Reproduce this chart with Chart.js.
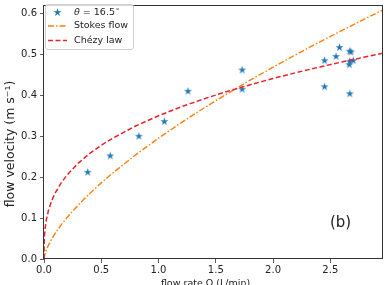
<!DOCTYPE html>
<html>
<head>
<meta charset="utf-8">
<script src="https://cdn.jsdelivr.net/npm/chart.js@4.4.0/dist/chart.umd.min.js"></script>
<style>
    html, body { margin: 0; padding: 0; background: #fff; overflow: hidden; }
    canvas { display: block; }
</style>
</head>
<body>
<canvas id="chart" width="388" height="285"></canvas>
<script>
const flowRate = [0.382, 0.578, 0.828, 1.051, 1.257, 1.73, 1.73, 2.45, 2.45, 2.55, 2.58, 2.67, 2.68, 2.67, 2.70, 2.665, 2.67];
const velocity = [0.212, 0.252, 0.300, 0.336, 0.410, 0.462, 0.415, 0.485, 0.421, 0.495, 0.517, 0.508, 0.506, 0.483, 0.485, 0.475, 0.404];

// Model curves, sampled off the figure
const modelQ  = [0, 0.001, 0.002, 0.005, 0.01, 0.02, 0.04, 0.07, 0.1, 0.15, 0.2, 0.3, 0.4, 0.5, 0.6, 0.8, 1.0, 1.2, 1.4, 1.6, 1.8, 2.0, 2.2, 2.4, 2.6, 2.8, 2.96];
const stokesV = [0, 0.003, 0.0047, 0.0086, 0.0137, 0.0218, 0.0346, 0.0502, 0.0636, 0.0834, 0.1010, 0.1324, 0.1604, 0.1861, 0.2101, 0.2546, 0.2954, 0.3336, 0.3697, 0.4041, 0.4371, 0.4689, 0.4997, 0.5296, 0.5586, 0.5869, 0.6090];
const chezyV  = [0, 0.035, 0.0441, 0.060, 0.0755, 0.0951, 0.1198, 0.1444, 0.1626, 0.1861, 0.2049, 0.2345, 0.2581, 0.2780, 0.2954, 0.3252, 0.3503, 0.3723, 0.3919, 0.4097, 0.4261, 0.4413, 0.4556, 0.4690, 0.4817, 0.4937, 0.5030];

// Tick labels
const xTicks = [0, 0.5, 1, 1.5, 2, 2.5];
const yTicks = [0, 0.1, 0.2, 0.3, 0.4, 0.5, 0.6];

const FONT = "'DejaVu Sans', sans-serif";
const BLUE = '#1f77b4';
const ORANGE = '#ff7f0e';
const RED = '#e8232a';

function toPoints(xs, ys) {
    return xs.map((x, i) => ({ x: x, y: ys[i] }));
}

// Filled five-point star, like matplotlib's '*' marker
function makeStar(r, color) {
    const size = Math.ceil(r * 2 + 2);
    const c = document.createElement('canvas');
    c.width = size;
    c.height = size;
    const g = c.getContext('2d');
    const cx = size / 2, cy = size / 2, inner = r * 0.381;
    g.beginPath();
    for (let i = 0; i < 10; i++) {
        const rad = i % 2 === 0 ? r : inner;
        const a = -Math.PI / 2 + i * Math.PI / 5;
        g.lineTo(cx + rad * Math.cos(a), cy + rad * Math.sin(a));
    }
    g.closePath();
    g.fillStyle = color;
    g.fill();
    return c;
}

const star = makeStar(4.2, BLUE);

// Frame, legend, axis titles and panel label
const extras = {
    id: 'extras',
    afterDraw(chart) {
        const ctx = chart.ctx;
        const a = chart.chartArea;
        ctx.save();

        // full box around the axes
        ctx.strokeStyle = '#333';
        ctx.lineWidth = 1;
        ctx.strokeRect(Math.round(a.left) - 0.5, Math.round(a.top) + 0.5,
            Math.round(a.right - a.left), Math.round(a.bottom - a.top) - 1);

        // legend box
        ctx.beginPath();
        ctx.roundRect(45.5, 4.5, 88, 45, 2.5);
        ctx.fillStyle = 'rgba(255,255,255,0.8)';
        ctx.fill();
        ctx.strokeStyle = '#d0d0d0';
        ctx.lineWidth = 1;
        ctx.stroke();

        const tx = 74;
        ctx.fillStyle = '#222';
        ctx.textBaseline = 'middle';
        ctx.textAlign = 'left';

        // row 1: stars
        ctx.drawImage(star, 57.5 - star.width / 2, 12.5 - star.height / 2);
        ctx.font = 'italic 9.5px ' + FONT;
        ctx.fillText('θ', tx, 12.5);
        let w = ctx.measureText('θ').width;
        ctx.font = '9.5px ' + FONT;
        ctx.fillText(' = 16.5', tx + w, 12.5);
        w += ctx.measureText(' = 16.5').width;
        ctx.font = '6.5px ' + FONT;
        ctx.fillText('∘', tx + w + 0.5, 9);

        // row 2: Stokes flow
        ctx.font = '9.5px ' + FONT;
        ctx.setLineDash([6, 2, 1.5, 2]);
        ctx.strokeStyle = ORANGE;
        ctx.lineWidth = 1.4;
        ctx.beginPath();
        ctx.moveTo(48, 26);
        ctx.lineTo(67, 26);
        ctx.stroke();
        ctx.fillText('Stokes flow', tx, 26);

        // row 3: Chezy law
        ctx.setLineDash([5, 2.5]);
        ctx.strokeStyle = RED;
        ctx.lineWidth = 1.5;
        ctx.beginPath();
        ctx.moveTo(48, 40.5);
        ctx.lineTo(67, 40.5);
        ctx.stroke();
        ctx.fillText('Chézy law', tx, 40.5);
        ctx.setLineDash([]);

        // panel label
        ctx.font = '15px ' + FONT;
        ctx.textAlign = 'center';
        ctx.fillText('(b)', 340.5, 223);

        // x axis title (partly below the window edge)
        ctx.font = '9.5px ' + FONT;
        ctx.textBaseline = 'alphabetic';
        ctx.fillText('flow rate Q (L/min)', 205.5, 286);

        // y axis title
        ctx.translate(11, 144);
        ctx.rotate(-Math.PI / 2);
        ctx.font = '12.5px ' + FONT;
        ctx.textBaseline = 'middle';
        ctx.fillText('flow velocity (m s⁻¹)', 0, 0);

        ctx.restore();
    }
};

const tickFont = { family: FONT, size: 10 };
const tickGrid = { drawOnChartArea: false, drawTicks: true, tickLength: 4, color: '#333', lineWidth: 0.8 };

new Chart(document.getElementById('chart').getContext('2d'), {
    type: 'scatter',
    data: {
        datasets: [
            {
                label: 'θ = 16.5°',
                data: toPoints(flowRate, velocity),
                pointStyle: star,
                pointRadius: 4,
                order: 3
            },
            {
                label: 'Stokes flow',
                data: toPoints(modelQ, stokesV),
                showLine: true,
                borderColor: ORANGE,
                borderWidth: 1.4,
                borderDash: [6, 2, 1.5, 2],
                pointRadius: 0,
                order: 2
            },
            {
                label: 'Chézy law',
                data: toPoints(modelQ, chezyV),
                showLine: true,
                borderColor: RED,
                borderWidth: 1.5,
                borderDash: [5, 2.5],
                pointRadius: 0,
                order: 1
            }
        ]
    },
    options: {
        responsive: false,
        animation: false,
        layout: { padding: { top: 3, right: 4, left: 0, bottom: 0 } },
        plugins: {
            legend: { display: false },
            tooltip: { enabled: false }
        },
        scales: {
            x: {
                type: 'linear',
                min: 0,
                max: 2.96,
                afterFit(scale) {
                    scale.height = 26;
                    scale.paddingLeft = 0;
                    scale.paddingRight = 0;
                },
                afterBuildTicks(scale) { scale.ticks = xTicks.map(v => ({ value: v })); },
                ticks: {
                    font: tickFont,
                    color: '#222',
                    padding: 1,
                    maxRotation: 0,
                    autoSkip: false,
                    callback: v => v.toFixed(1)
                },
                grid: tickGrid,
                border: { display: false }
            },
            y: {
                type: 'linear',
                min: 0,
                max: 0.621,
                afterFit(scale) {
                    scale.width = 44;
                    scale.paddingTop = 0;
                    scale.paddingBottom = 0;
                },
                afterBuildTicks(scale) { scale.ticks = yTicks.map(v => ({ value: v })); },
                ticks: {
                    font: tickFont,
                    color: '#222',
                    padding: 3,
                    autoSkip: false,
                    callback: v => v.toFixed(1)
                },
                grid: tickGrid,
                border: { display: false }
            }
        }
    },
    plugins: [extras]
});
</script>
</body>
</html>
